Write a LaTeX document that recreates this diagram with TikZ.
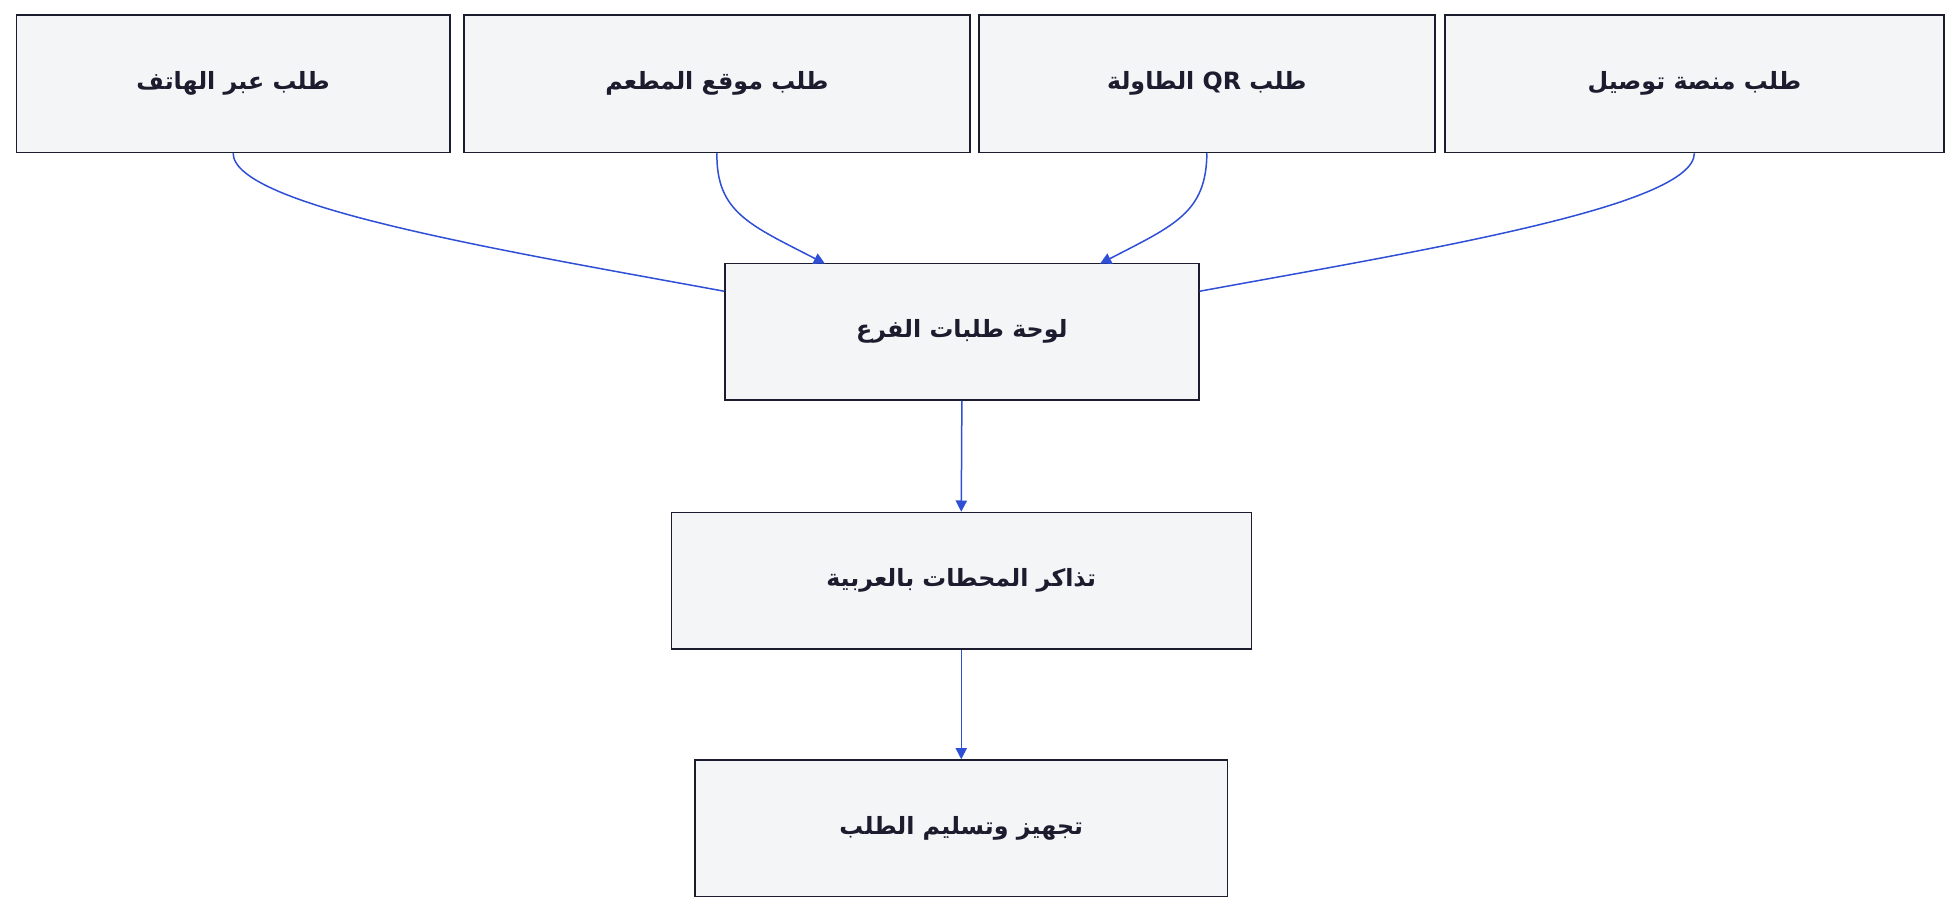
\documentclass[tikz,border=0pt]{standalone}
\usepackage{fontspec}
\newfontfamily\ar[Script=Arabic]{DejaVu Sans}
\usetikzlibrary{arrows.meta}
\TeXXeTstate=1
\definecolor{boxfill}{HTML}{F4F5F7}
\definecolor{boxdraw}{HTML}{1B1D2E}
\definecolor{edge}{HTML}{2E4FD6}
\newcommand{\R}[1]{\beginR #1\endR}
\begin{document}
\begin{tikzpicture}[x=1pt,y=-1pt,
  box/.style={draw=boxdraw,fill=boxfill,line width=1.2pt,inner sep=0pt,font=\ar\bfseries\fontsize{19}{22}\selectfont,text=boxdraw},
  con/.style={draw=edge,line width=1.2pt},
  arr/.style={con,-{Triangle[length=9pt,width=9pt]}}]
\useasboundingbox (0,0) rectangle (1568,729.6);
\node[box,minimum width=347pt,minimum height=110pt] (a) at (186.5,67) {\R{طلب عبر الهاتف}};
\node[box,minimum width=405pt,minimum height=110pt] (b) at (573.5,67) {\R{طلب موقع المطعم}};
\node[box,minimum width=365pt,minimum height=110pt] (c) at (965.5,67) {\R{طلب \beginL QR\endL{} الطاولة}};
\node[box,minimum width=399pt,minimum height=110pt] (d) at (1355.5,67) {\R{طلب منصة توصيل}};
\node[box,minimum width=379pt,minimum height=109pt] (e) at (769.5,265.5) {\R{لوحة طلبات الفرع}};
\node[box,minimum width=464pt,minimum height=109pt] (f) at (769,464.5) {\R{تذاكر المحطات بالعربية}};
\node[box,minimum width=426pt,minimum height=109pt] (g) at (769,662.5) {\R{تجهيز وتسليم الطلب}};
\draw[con] (a.south) .. controls (187,165) and (400,200) .. (e.west |- 0,233);
\draw[arr] (b.south) .. controls (573,170) and (600,180) .. (660,211);
\draw[arr] (c.south) .. controls (965,170) and (940,180) .. (880,211);
\draw[con] (d.south) .. controls (1355,165) and (1140,200) .. (e.east |- 0,233);
\draw[arr] (e.south) -- (f.north);
\draw[arr] (f.south) -- (g.north);
\end{tikzpicture}
\end{document}
